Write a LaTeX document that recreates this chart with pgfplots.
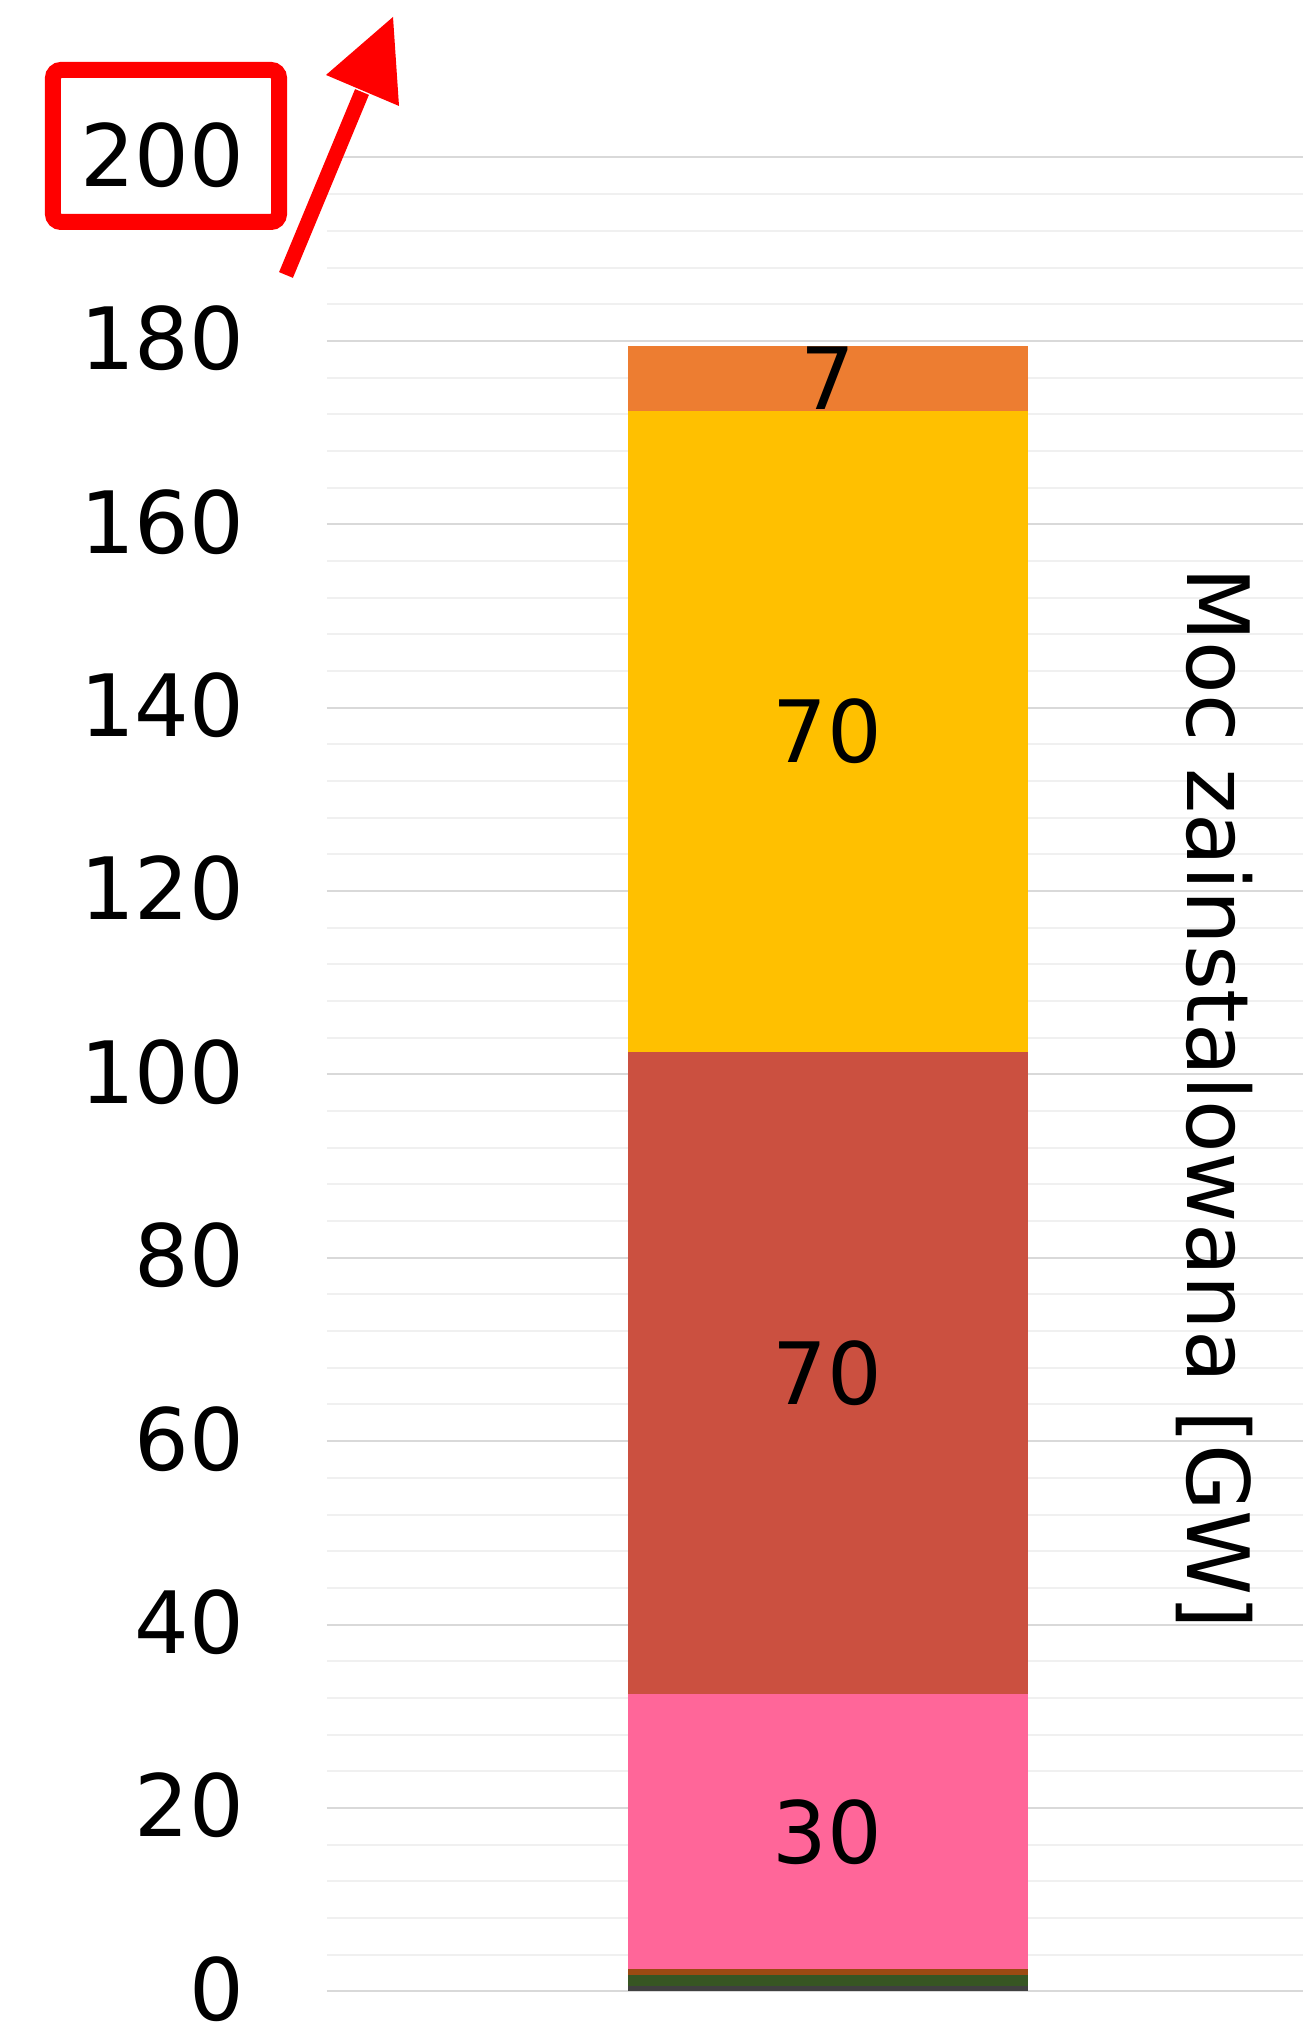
\documentclass[border=0pt]{standalone}
\usepackage{pgfplots}
\pgfplotsset{compat=1.18}
\usepackage{fontspec}
\setmainfont{DejaVu Sans}
\definecolor{cgray}{HTML}{404040}
\definecolor{cgreen}{HTML}{375623}
\definecolor{cbrown}{HTML}{9C4A12}
\definecolor{cpink}{HTML}{FF6699}
\definecolor{cred}{HTML}{CB5040}
\definecolor{cyellow}{HTML}{FFC000}
\definecolor{corange}{HTML}{ED7D31}
\definecolor{gmajor}{HTML}{D9D9D9}
\definecolor{gminor}{HTML}{F0F0F0}
\newcommand{\lblfont}{\fontsize{21.5}{25}\selectfont}
\begin{document}
\begin{tikzpicture}
\begin{axis}[
  at={(0,0)}, anchor=south west,
  scale only axis, width=244pt, height=458.45pt,
  xmin=0, xmax=1, ymin=0, ymax=200,
  ybar stacked, bar width=100pt,
  reverse stacked plots=false,
  xtick=\empty,
  ytick={0,20,...,200},
  minor y tick num=4,
  ymajorgrids, yminorgrids,
  major grid style={gmajor, line width=0.5pt},
  minor grid style={gminor, line width=0.5pt},
  axis line style={draw=none},
  major tick length=0pt, minor tick length=0pt,
  tick label style={font=\lblfont},
  /pgf/number format/assume math mode=true,
  yticklabel style={anchor=east, inner sep=0pt, xshift=-20.5pt, yshift=0.6pt},
  clip=false,
]
\addplot[fill=cgray, draw=none] coordinates {(0.513,0.6)};
\addplot[fill=cgreen, draw=none] coordinates {(0.513,1.2)};
\addplot[fill=cbrown, draw=none] coordinates {(0.513,0.6)};
\addplot[fill=cpink, draw=none] coordinates {(0.513,30)};
\addplot[fill=cred, draw=none] coordinates {(0.513,70)};
\addplot[fill=cyellow, draw=none] coordinates {(0.513,70)};
\addplot[fill=corange, draw=none] coordinates {(0.513,7)};
\node[font=\lblfont] at (axis cs:0.513,17.4) {30};
\node[font=\lblfont] at (axis cs:0.513,67.4) {70};
\node[font=\lblfont] at (axis cs:0.513,137.4) {70};
\node[font=\lblfont] at (axis cs:0.513,175.9) {7};
\node[rotate=-90, font=\lblfont] at (rel axis cs:0.909,0.487) {Moc zainstalowana [GW]};
\end{axis}
\begin{scope}[x=0.25pt, y=-0.25pt, shift={(-81.75pt,497.825pt)}]
\path[use as bounding box] (0,0) rectangle (1303,2024);
\draw[red, line width=4pt, rounded corners=2pt] (53,70) rectangle (279,222);
\draw[red, line width=3.75pt] (286,275) -- (362,92);
\fill[red] (326,75) -- (393,17) -- (399,106) -- cycle;
\end{scope}
\end{tikzpicture}
\end{document}
